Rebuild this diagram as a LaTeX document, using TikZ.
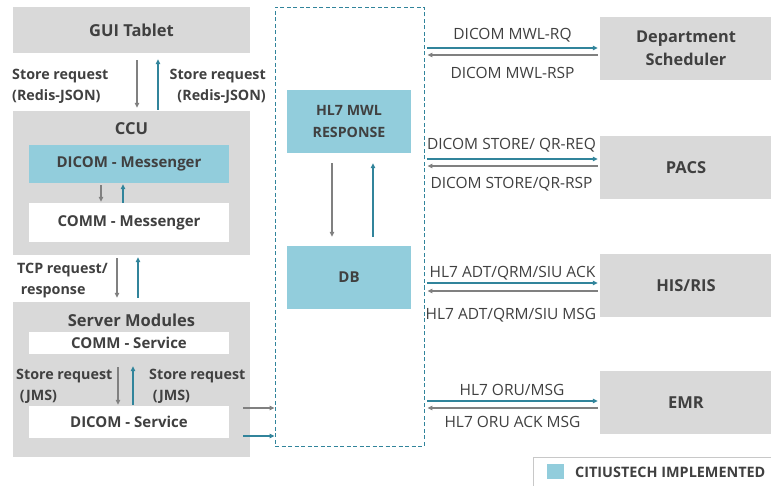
\documentclass[tikz,border=0pt]{standalone}
\usepackage{fontspec}
\setmainfont{Open Sans}
\usetikzlibrary{arrows.meta}
\definecolor{boxgray}{HTML}{D9D9D9}
\definecolor{tealfill}{HTML}{92CDDC}
\definecolor{tealline}{HTML}{31849B}
\definecolor{arrgray}{HTML}{808080}
\definecolor{txt}{HTML}{404040}
\definecolor{legborder}{HTML}{C8C8C8}
\tikzset{
  box/.style={draw=none, inner sep=0pt, text=txt, align=center, font=\bfseries\fontsize{16.5}{21}\selectfont},
  graybox/.style={box, fill=boxgray},
  tealbox/.style={box, fill=tealfill, font=\bfseries\fontsize{15}{21}\selectfont},
  whitebox/.style={box, fill=white, font=\bfseries\fontsize{15}{21}\selectfont},
  boxtitle/.style={inner sep=0pt, text=txt, font=\bfseries\fontsize{16.5}{21}\selectfont},
  lbl/.style={inner sep=0pt, text=txt, font=\fontsize{15.5}{19}\selectfont},
  blbl/.style={inner sep=0pt, text=txt, align=left, font=\bfseries\fontsize{14.3}{21}\selectfont},
  ga/.style={draw=arrgray, line width=1.1pt, -{Triangle[length=5pt,width=4.5pt]}},
  ta/.style={draw=tealline, line width=1.1pt, -{Triangle[length=5pt,width=4.5pt]}},
}
\begin{document}
\begin{tikzpicture}[x=1pt,y=-1pt]
\useasboundingbox (0,0) rectangle (771,486);
% left column
\node[graybox, minimum width=237pt, minimum height=46pt] (gui) at (131.5,30) {GUI Tablet};
\node[graybox, minimum width=237pt, minimum height=144pt] (ccu) at (131.5,183) {};
\node[boxtitle] (ccut) at (131.5,129) {CCU};
\node[tealbox, minimum width=200pt, minimum height=38pt] (dm) at (129,164) {DICOM - Messenger};
\node[whitebox, minimum width=200pt, minimum height=39pt] (cm) at (129,222.5) {COMM - Messenger};
\node[graybox, minimum width=237pt, minimum height=155pt] (sm) at (131.5,379.5) {};
\node[boxtitle] (smt) at (131.5,320) {Server Modules};
\node[whitebox, minimum width=200pt, minimum height=22pt] (cs) at (129,343) {COMM - Service};
\node[whitebox, minimum width=200pt, minimum height=32pt] (ds) at (129,422) {DICOM - Service};
% labels left
\node[blbl, anchor=west] (l1) at (12,86.5) {Store request\\(Redis-JSON)};
\node[blbl, anchor=east, align=right] (l2) at (266,86.5) {Store request\\(Redis-JSON)};
\node[blbl, anchor=west] (l3) at (17,280.5) {TCP request/\\\ response};
\node[blbl, anchor=west] (l4) at (16,386) {Store request\\\ (JMS)};
\node[blbl, anchor=west] (l5) at (149,386) {Store request\\\ (JMS)};
% arrows left column
\draw[ga] ([xshift=5.5pt,yshift=-7pt]gui.south) -- ([xshift=5.5pt,yshift=3pt]ccu.north);
\draw[ta] ([xshift=26.5pt,yshift=1pt]ccu.north) -- ([xshift=26.5pt,yshift=-6pt]gui.south);
\draw[ga] ([xshift=-28pt,yshift=-2pt]dm.south) -- ([xshift=-28pt,yshift=1pt]cm.north);
\draw[ta] ([xshift=-6pt]cm.north) -- ([xshift=-6pt,yshift=-1pt]dm.south);
\draw[ga] ([xshift=-14.5pt,yshift=-3pt]ccu.south) -- ([xshift=-14.5pt,yshift=4pt]sm.north);
\draw[ta] ([xshift=6.5pt,yshift=4pt]sm.north) -- ([xshift=6.5pt,yshift=-2pt]ccu.south);
\draw[ga] ([xshift=-11pt,yshift=-13pt]cs.south) -- ([xshift=-11pt,yshift=1pt]ds.north);
\draw[ta] ([xshift=4pt,yshift=1pt]ds.north) -- ([xshift=4pt,yshift=-12pt]cs.south);
% dashed box
\node[draw=tealline, dashed, dash pattern=on 4pt off 2.5pt, line width=0.9pt, minimum width=149pt, minimum height=439pt, inner sep=0pt] (dash) at (349.5,226.5) {};
\node[tealbox, minimum width=124pt, minimum height=63pt, font=\bfseries\fontsize{14.2}{22}\selectfont] (hl7) at (349,121.5) {HL7 MWL\\RESPONSE};
\node[tealbox, minimum width=124pt, minimum height=63pt] (db) at (349,277.5) {DB};
\draw[ga] ([xshift=-17pt,yshift=-10pt]hl7.south) -- ([xshift=-17pt,yshift=9pt]db.north);
\draw[ta] ([xshift=24pt,yshift=9pt]db.north) -- ([xshift=24pt,yshift=-10pt]hl7.south);
\draw[ga] ([xshift=14pt,yshift=14pt]ds.east) -- ([yshift=14pt]ds.east -| dash.west);
\draw[ta] ([xshift=14pt,yshift=-14pt]ds.east) -- ([yshift=-14pt]ds.east -| dash.west);
% right column
\node[graybox, minimum width=172pt, minimum height=63pt, font=\bfseries\fontsize{16.3}{23}\selectfont] (sched) at (686,48.5) {Department\\Scheduler};
\node[graybox, minimum width=172pt, minimum height=63pt] (pacs) at (686,167.5) {PACS};
\node[graybox, minimum width=172pt, minimum height=63pt] (his) at (686,285.5) {HIS/RIS};
\node[graybox, minimum width=172pt, minimum height=63pt] (emr) at (686,402.5) {EMR};
% right connectors
\draw[ta] ([xshift=3pt,yshift=0.5pt]sched.west -| dash.east) -- ([xshift=-2pt,yshift=0.5pt]sched.west);
\draw[ga] ([xshift=-2pt,yshift=-6.5pt]sched.west) -- ([xshift=3pt,yshift=-6.5pt]sched.west -| dash.east);
\node[lbl] (r1a) at (512.5,35) {DICOM MWL-RQ};
\node[lbl] (r1b) at (512.5,73) {DICOM MWL-RSP};
\draw[ta] ([xshift=3pt,yshift=8.5pt]pacs.west -| dash.east) -- ([xshift=-2pt,yshift=8.5pt]pacs.west);
\draw[ga] ([xshift=-2pt,yshift=1.5pt]pacs.west) -- ([xshift=3pt,yshift=1.5pt]pacs.west -| dash.east);
\node[lbl] (r2a) at (511.5,145) {DICOM STORE/ QR-REQ};
\node[lbl] (r2b) at (511.5,184) {DICOM STORE/QR-RSP};
\draw[ta] ([xshift=3pt,yshift=2.5pt]his.west -| dash.east) -- ([xshift=-2pt,yshift=2.5pt]his.west);
\draw[ga] ([xshift=-2pt,yshift=-5.5pt]his.west) -- ([xshift=3pt,yshift=-5.5pt]his.west -| dash.east);
\node[lbl] (r3a) at (512.5,273) {HL7 ADT/QRM/SIU ACK};
\node[lbl] (r3b) at (511,315) {HL7 ADT/QRM/SIU MSG};
\draw[ta] ([xshift=3pt,yshift=1.5pt]emr.west -| dash.east) -- ([xshift=-2pt,yshift=1.5pt]emr.west);
\draw[ga] ([xshift=-2pt,yshift=-5.5pt]emr.west) -- ([xshift=3pt,yshift=-5.5pt]emr.west -| dash.east);
\node[lbl] (r4a) at (512,390) {HL7 ORU/MSG};
\node[lbl] (r4b) at (512.5,422) {HL7 ORU ACK MSG};
% legend
\node[draw=legborder, line width=0.8pt, fill=white, minimum width=245pt, minimum height=34pt, inner sep=0pt] (leg) at (655.5,474) {};
\node[fill=tealfill, minimum width=17pt, minimum height=15pt, inner sep=0pt] (legsq) at (555.5,471.5) {};
\node[anchor=west, inner sep=0pt, text=txt, font=\bfseries\fontsize{14.4}{16}\selectfont] (legt) at (575,472) {CITIUSTECH IMPLEMENTED};
\end{tikzpicture}
\end{document}
